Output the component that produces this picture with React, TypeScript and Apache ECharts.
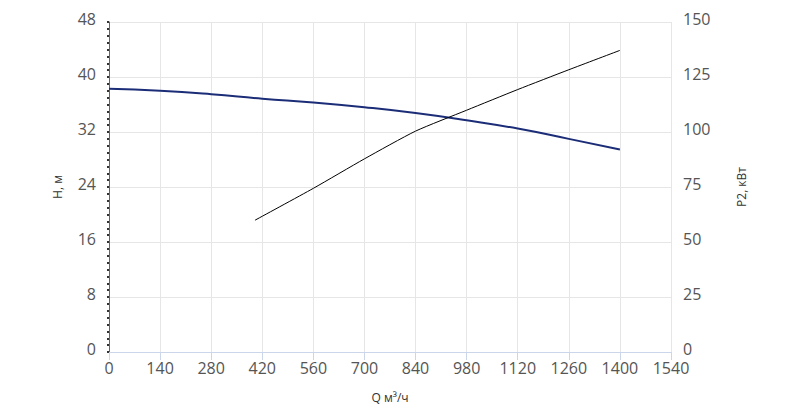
import React, { useEffect, useRef } from "react";
import * as echarts from "echarts";

const qTicks = [0, 140, 280, 420, 560, 700, 840, 980, 1120, 1260, 1400, 1540];
const headQ = [0, 140, 280, 420, 560, 700, 840, 980, 1120, 1260, 1400];
const headH = [38.3, 38.0, 37.5, 36.85, 36.3, 35.6, 34.75, 33.7, 32.5, 31.0, 29.45];
const powerQ = [400, 560, 700, 840, 980, 1120, 1260, 1400];
const powerP = [59.9, 74.4, 87.8, 100.4, 109.9, 119.3, 128.3, 137.1];

const FONT = "Open Sans";

export default function App() {
  const ref = useRef<HTMLDivElement>(null);
  useEffect(() => {
    document.body.style.margin = "0";
    const chart = echarts.init(ref.current!, null, { renderer: "svg" });
    chart.setOption({
      animation: false,
      textStyle: { fontFamily: FONT },
      grid: { left: 109, right: 129, top: 22, bottom: 56, containLabel: false, outerBoundsMode: "none" },
      xAxis: {
        type: "value",
        min: qTicks[0],
        max: qTicks[qTicks.length - 1],
        interval: 140,
        name: "Q м³/ч",
        nameLocation: "middle",
        nameGap: 39,
        nameTextStyle: { fontFamily: FONT, fontSize: 12, color: "#333" },
        axisLine: { show: true, lineStyle: { color: "#ccd6eb", width: 1 } },
        axisTick: { show: true, length: 8, lineStyle: { color: "#ccd6eb" } },
        axisLabel: { fontFamily: FONT, fontSize: 16, color: "#555", margin: 8, formatter: (v: number) => String(v) },
        splitLine: { show: true, lineStyle: { color: "#e6e6e6" } },
      },
      yAxis: [
        {
          type: "value",
          min: 0,
          max: 48,
          interval: 8,
          position: "left",
          name: "H, м",
          nameLocation: "middle",
          nameRotate: 90,
          nameGap: 46,
          nameTextStyle: { fontFamily: FONT, fontSize: 12, color: "#333" },
          axisLine: { show: true, lineStyle: { color: "#666", width: 1 } },
          axisTick: { show: true, length: 2, lineStyle: { color: "#333", width: 2 } },
          minorTick: { show: true, splitNumber: 8, length: 2, lineStyle: { color: "#333", width: 2 } },
          axisLabel: { fontFamily: FONT, fontSize: 16, color: "#555", margin: 13, verticalAlign: "bottom", lineHeight: 6, formatter: (v: number) => String(v) },
          splitLine: { show: true, lineStyle: { color: "#e6e6e6" } },
        },
        {
          type: "value",
          min: 0,
          max: 150,
          interval: 25,
          position: "right",
          name: "P2, кВт",
          nameLocation: "middle",
          nameRotate: 90,
          nameGap: 64,
          nameTextStyle: { fontFamily: FONT, fontSize: 12, color: "#333" },
          axisLine: { show: false },
          axisTick: { show: false },
          axisLabel: { fontFamily: FONT, fontSize: 16, color: "#555", margin: 12, verticalAlign: "bottom", lineHeight: 6, formatter: (v: number) => String(v) },
          splitLine: { show: false },
        },
      ],
      series: [
        {
          type: "line",
          yAxisIndex: 0,
          data: headQ.map((q, i) => [q, headH[i]]),
          smooth: true,
          showSymbol: false,
          lineStyle: { color: "#1c2d78", width: 2 },
        },
        {
          type: "line",
          yAxisIndex: 1,
          data: powerQ.map((q, i) => [q, powerP[i]]),
          smooth: 0.2,
          showSymbol: false,
          lineStyle: { color: "#000", width: 1 },
        },
      ],
    });
    return () => chart.dispose();
  }, []);
  return <div ref={ref} style={{ width: 800, height: 408 }} />;
}
